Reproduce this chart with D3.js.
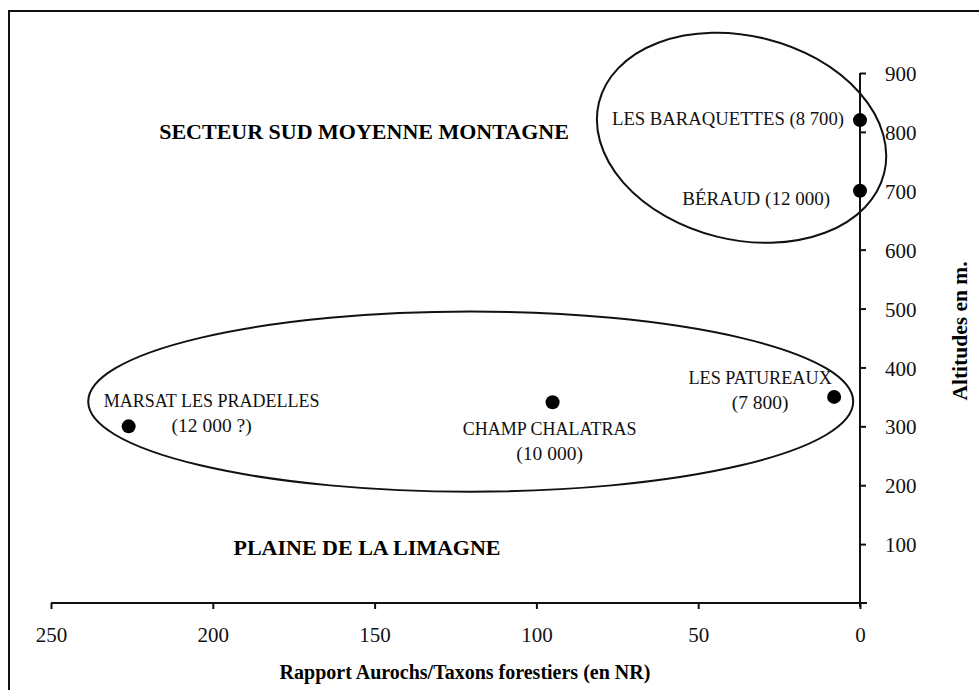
<!DOCTYPE html>
<html>
<head>
<meta charset="utf-8">
<script src="https://cdn.jsdelivr.net/npm/d3@7"></script>
<style>
  body { margin: 0; background: #fff; }
  svg { display: block; font-family: "Liberation Serif", "Times New Roman", serif; }
</style>
</head>
<body>
<div id="chart"></div>
<script>
// sites, ratio aurochs / forest taxa (NR) and altitude (m)
var sites = ["LES BARAQUETTES (8 700)", "BÉRAUD (12 000)", "LES PATUREAUX", "CHAMP CHALATRAS", "MARSAT LES PRADELLES"];
var siteDates = ["", "", "(7 800)", "(10 000)", "(12 000 ?)"];
var ratios = [0, 0, 8, 95, 226];
var altitudes = [820, 700, 350, 341, 300];

var xTicks = [250, 200, 150, 100, 50, 0];
var yTicks = [100, 200, 300, 400, 500, 600, 700, 800, 900];

// the two groups, in data units: centre ratio, centre altitude, half width, half height
var groupNames = ["SECTEUR SUD MOYENNE MONTAGNE", "PLAINE DE LA LIMAGNE"];
var groupCx = [36.6, 120.3];
var groupCy = [790, 342];
var groupRx = [45.4, 118.2];
var groupRy = [173, 153];

var width = 979, height = 690;

var svg = d3.select("#chart").append("svg")
    .attr("width", width)
    .attr("height", height);

// frame
svg.append("rect")
    .attr("x", 9).attr("y", 11)
    .attr("width", width + 10).attr("height", height + 10)
    .attr("fill", "none")
    .attr("stroke", "#111")
    .attr("stroke-width", 2);

var x = d3.scaleLinear().domain([250, 0]).range([51, 860]);
var y = d3.scaleLinear().domain([0, 900]).range([603, 73]);

// x axis
var xAxis = svg.append("g")
    .attr("transform", "translate(0," + y(0) + ")")
    .call(d3.axisBottom(x).tickValues(xTicks).tickSize(6).tickPadding(18).tickFormat(d3.format("d")));
xAxis.select(".domain").remove();
xAxis.append("line")
    .attr("x1", x(250)).attr("x2", x(0) + 7)
    .attr("stroke", "#111").attr("stroke-width", 2);

// y axis on the right
var yAxis = svg.append("g")
    .attr("transform", "translate(" + x(0) + ",0)")
    .call(d3.axisRight(y).tickValues(yTicks).tickSize(6).tickPadding(19).tickFormat(d3.format("d")));
yAxis.select(".domain").remove();
yAxis.append("line")
    .attr("y1", y(900)).attr("y2", y(0) + 4)
    .attr("stroke", "#111").attr("stroke-width", 2);

svg.selectAll(".tick line").attr("stroke", "#111").attr("stroke-width", 2);
svg.selectAll(".tick text")
    .attr("fill", "#111")
    .style("font-family", "Liberation Serif")
    .style("font-size", "21px");
yAxis.selectAll(".tick text").attr("dy", "0.36em");

// axis titles
svg.append("text")
    .attr("x", 465).attr("y", 679)
    .attr("text-anchor", "middle")
    .style("font-weight", "bold")
    .style("font-size", "20px")
    .text("Rapport Aurochs/Taxons forestiers (en NR)");

svg.append("text")
    .attr("transform", "translate(967,331) rotate(-90)")
    .attr("text-anchor", "middle")
    .style("font-weight", "bold")
    .style("font-size", "21.5px")
    .text("Altitudes en m.");

// group ellipses
var tilt = [14, 0];
groupNames.forEach(function (name, i) {
    var cx = x(groupCx[i]), cy = y(groupCy[i]);
    svg.append("ellipse")
        .attr("cx", cx).attr("cy", cy)
        .attr("rx", x(0) - x(groupRx[i]))
        .attr("ry", y(0) - y(groupRy[i]))
        .attr("transform", "rotate(" + tilt[i] + "," + cx + "," + cy + ")")
        .attr("fill", "none")
        .attr("stroke", "#111")
        .attr("stroke-width", 2);
});

// group titles
var titlePos = [[364, 139], [367, 555]];
groupNames.forEach(function (name, i) {
    svg.append("text")
        .attr("x", titlePos[i][0]).attr("y", titlePos[i][1])
        .attr("text-anchor", "middle")
        .style("font-weight", "bold")
        .style("font-size", "22px")
        .text(name);
});

// points
svg.selectAll("circle.site")
    .data(sites)
    .enter()
    .append("circle")
    .attr("class", "site")
    .attr("cx", function (d, i) { return x(ratios[i]); })
    .attr("cy", function (d, i) { return y(altitudes[i]); })
    .attr("r", 7)
    .attr("fill", "#000");

// labels: anchor, dx, dy line 1, dy line 2 (offsets from the point), name size
var labelLayout = [
    ["end", -16, 5, 0, 18.7],
    ["end", -30, 14, 0, 19],
    ["middle", -74, -13, 12, 18.2],
    ["middle", -3, 33, 58, 18],
    ["middle", 83, -19, 6, 18]
];

sites.forEach(function (name, i) {
    var px = x(ratios[i]), py = y(altitudes[i]);
    var l = labelLayout[i];
    svg.append("text")
        .attr("x", px + l[1]).attr("y", py + l[2])
        .attr("text-anchor", l[0])
        .style("font-size", l[4] + "px")
        .attr("fill", "#111")
        .text(name);
    if (siteDates[i]) {
        svg.append("text")
            .attr("x", px + l[1]).attr("y", py + l[3])
            .attr("text-anchor", l[0])
            .style("font-size", "19.5px")
            .attr("fill", "#111")
            .text(siteDates[i]);
    }
});
</script>
</body>
</html>
